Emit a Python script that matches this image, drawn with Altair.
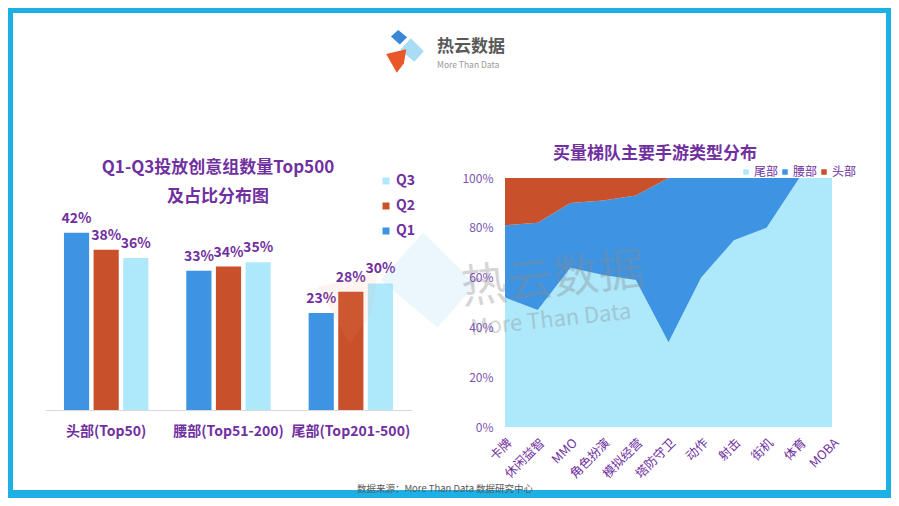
import altair as alt
import pandas as pd

# ---------------- data ----------------
groups = ["头部(Top50)", "腰部(Top51-200)", "尾部(Top201-500)"]
quarters = ["Q1", "Q2", "Q3"]
q1 = [42, 33, 23]
q2 = [38, 34, 28]
q3 = [36, 35, 30]

genres = ["卡牌", "休闲益智", "MMO", "角色扮演", "模拟经营", "塔防守卫",
          "动作", "射击", "街机", "体育", "MOBA"]
tiers = ["尾部", "腰部", "头部"]
tail = [52, 47, 64, 61, 59, 34, 60, 75, 80, 100, 100]
waist = [29, 35, 26, 30, 34, 66, 40, 25, 20, 0, 0]
head = [19, 18, 10, 9, 7, 0, 0, 0, 0, 0, 0]

# ---------------- style ----------------
F = "Noto Sans CJK SC"
PURPLE = "#7030A0"
LPURPLE = "#7b55b0"
C1, C2, C3 = "#3d94e2", "#c8502a", "#aee8fb"
W, H = 883, 490

rows = []
for g, a, b, c in zip(groups, q1, q2, q3):
    for q, v in zip(quarters, [a, b, c]):
        rows.append({"group": g, "quarter": q, "value": v, "label": f"{v}%"})
bar_df = pd.DataFrame(rows)

arows = []
for i, g in enumerate(genres):
    for k, (t, vals) in enumerate(zip(tiers, [tail, waist, head])):
        arows.append({"genre": g, "tier": t, "value": vals[i], "ord": k})
area_df = pd.DataFrame(arows)

one = pd.DataFrame({"a": [0]})


def txt(s, x, y, size, color, weight="normal", align="center", angle=0, opacity=1.0):
    return alt.Chart(pd.DataFrame({"t": [s]})).mark_text(
        font=F, fontSize=size, color=color, fontWeight=weight, align=align,
        baseline="middle", angle=angle, opacity=opacity
    ).encode(x=alt.value(x), y=alt.value(y), text="t:N")


def shape(path, cx, cy, sz, col, op=1.0):
    return alt.Chart(one).mark_point(
        shape=path, filled=True, fill=col, opacity=op, strokeWidth=0, size=sz
    ).encode(x=alt.value(cx), y=alt.value(cy))


# frame
frame = alt.Chart(one).mark_rect(fill="white", stroke="#1cb0e4", strokeWidth=5).encode(
    x=alt.value(2.5), x2=alt.value(W - 2.5), y=alt.value(2.5), y2=alt.value(H - 2.5))
bottom_band = alt.Chart(one).mark_rect(fill="#1cb0e4").encode(
    x=alt.value(0), x2=alt.value(W), y=alt.value(H - 8), y2=alt.value(H))

# logo
logo_parts = [
    shape("M-0.1,-1L1,0.1L0.2,1L-1,0Z", 404, 42, 560, "#a9dcf5"),
    shape("M-1,-0.2L-0.1,-1L1,-0.1L0.1,0.8Z", 391, 30, 260, "#3a86d8"),
    shape("M-1,-0.6L0.7,-1L0.5,0.2L-0.1,1Z", 390, 53, 560, "#e8582a"),
]
# faint watermark logo
wm_logo = [
    shape("M-0.1,-1L1,0.1L0.2,1L-1,0Z", 420, 272, 9000, "#a9dcf5", 0.22),
    shape("M-1,-0.6L0.7,-1L0.5,0.2L-0.1,1Z", 345, 300, 5000, "#f2a07a", 0.10),
]

header1 = txt("热云数据", 429, 39, 17, "#595959", weight="bold", align="left")
header2 = txt("More Than Data", 429, 57, 8.5, "#999999", align="left")
footer = txt("数据来源：More  Than  Data 数据研究中心", 437, 481, 9.5, "#595959")

# ---------------- left: grouped bars ----------------
xb = alt.X("group:N", sort=groups,
           scale=alt.Scale(range=[37, 404], paddingInner=0.31, paddingOuter=0.155),
           axis=alt.Axis(orient="bottom", offset=-88, title=None, labelAngle=0,
                         labelFont=F, labelFontSize=14, labelFontWeight="bold",
                         labelColor=PURPLE, domainColor="#d9d9d9", ticks=False,
                         labelPadding=14, zindex=1))
xo = alt.XOffset("quarter:N", sort=quarters, scale=alt.Scale(paddingInner=0.15))
yb = alt.Y("value:Q", scale=alt.Scale(domain=[0, 50], range=[402, 191]), axis=None)

bars = alt.Chart(bar_df).mark_bar().encode(
    x=xb, xOffset=xo, y=yb,
    color=alt.Color("quarter:N",
                    scale=alt.Scale(domain=["Q3", "Q2", "Q1"], range=[C3, C2, C1]),
                    legend=alt.Legend(orient="none", legendX=371, legendY=166,
                                      title=None, symbolType="square", symbolSize=49,
                                      labelFont=F, labelFontSize=14,
                                      labelFontWeight="bold", labelColor=PURPLE,
                                      rowPadding=11, padding=0, labelOffset=3,
                                      symbolStrokeWidth=0)),
)
bar_labels = alt.Chart(bar_df).mark_text(
    dy=-14, font=F, fontSize=14, fontWeight="bold", color=PURPLE
).encode(x=xb, xOffset=xo, y=yb, text="label:N")
left = alt.layer(bars, bar_labels)

title1 = txt("Q1-Q3投放创意组数量Top500", 210, 160, 17, PURPLE, weight="bold")
title2 = txt("及占比分布图", 210, 189, 17, PURPLE, weight="bold")

# ---------------- right: stacked area ----------------
area = alt.Chart(area_df).mark_area(interpolate="linear", opacity=1).encode(
    x=alt.X("genre:N", sort=genres,
            scale=alt.Scale(type="point", range=[497, 824], padding=0),
            axis=alt.Axis(orient="bottom", offset=-71, title=None, labelAngle=315,
                          labelFont=F, labelFontSize=12.5, labelColor=PURPLE,
                          domain=False, ticks=False, labelPadding=9, zindex=1)),
    y=alt.Y("value:Q", stack="zero",
            scale=alt.Scale(domain=[0, 100], range=[419, 170]),
            axis=alt.Axis(orient="left", offset=-497, title=None,
                          values=[0, 20, 40, 60, 80, 100],
                          labelExpr="datum.value + '%'", grid=False, domain=False,
                          ticks=False, labelPadding=12, labelFont=F,
                          labelFontSize=12, labelColor=LPURPLE, zindex=1)),
    color=alt.Color("tier:N",
                    scale=alt.Scale(domain=tiers, range=[C3, C1, C2]),
                    legend=alt.Legend(orient="none", direction="horizontal",
                                      legendX=732, legendY=158, title=None,
                                      symbolType="square", symbolSize=30,
                                      labelFont=F, labelFontSize=12,
                                      labelColor=PURPLE, columnPadding=0,
                                      labelOffset=2, padding=0,
                                      symbolStrokeWidth=0)),
    order=alt.Order("ord:Q"),
)
title3 = txt("买量梯队主要手游类型分布", 647, 146, 17, PURPLE, weight="bold")

# watermark text
wm1 = txt("热云数据", 545, 272, 46, "#8a8a8a", angle=354, opacity=0.35)
wm2 = txt("More Than Data", 543, 312, 22, "#8a8a8a", angle=354, opacity=0.35)

chart = alt.layer(
    frame, bottom_band, *logo_parts, header1, header2,
    left, title1, title2,
    area, title3,
    *wm_logo, wm1, wm2, footer,
).resolve_scale(
    x="independent", y="independent", color="independent"
).properties(
    width=W, height=H, padding=0, autosize=alt.AutoSizeParams(type="none")
).configure_view(strokeWidth=0)

chart.save("out.html", embed_options={"renderer": "svg", "actions": False})
